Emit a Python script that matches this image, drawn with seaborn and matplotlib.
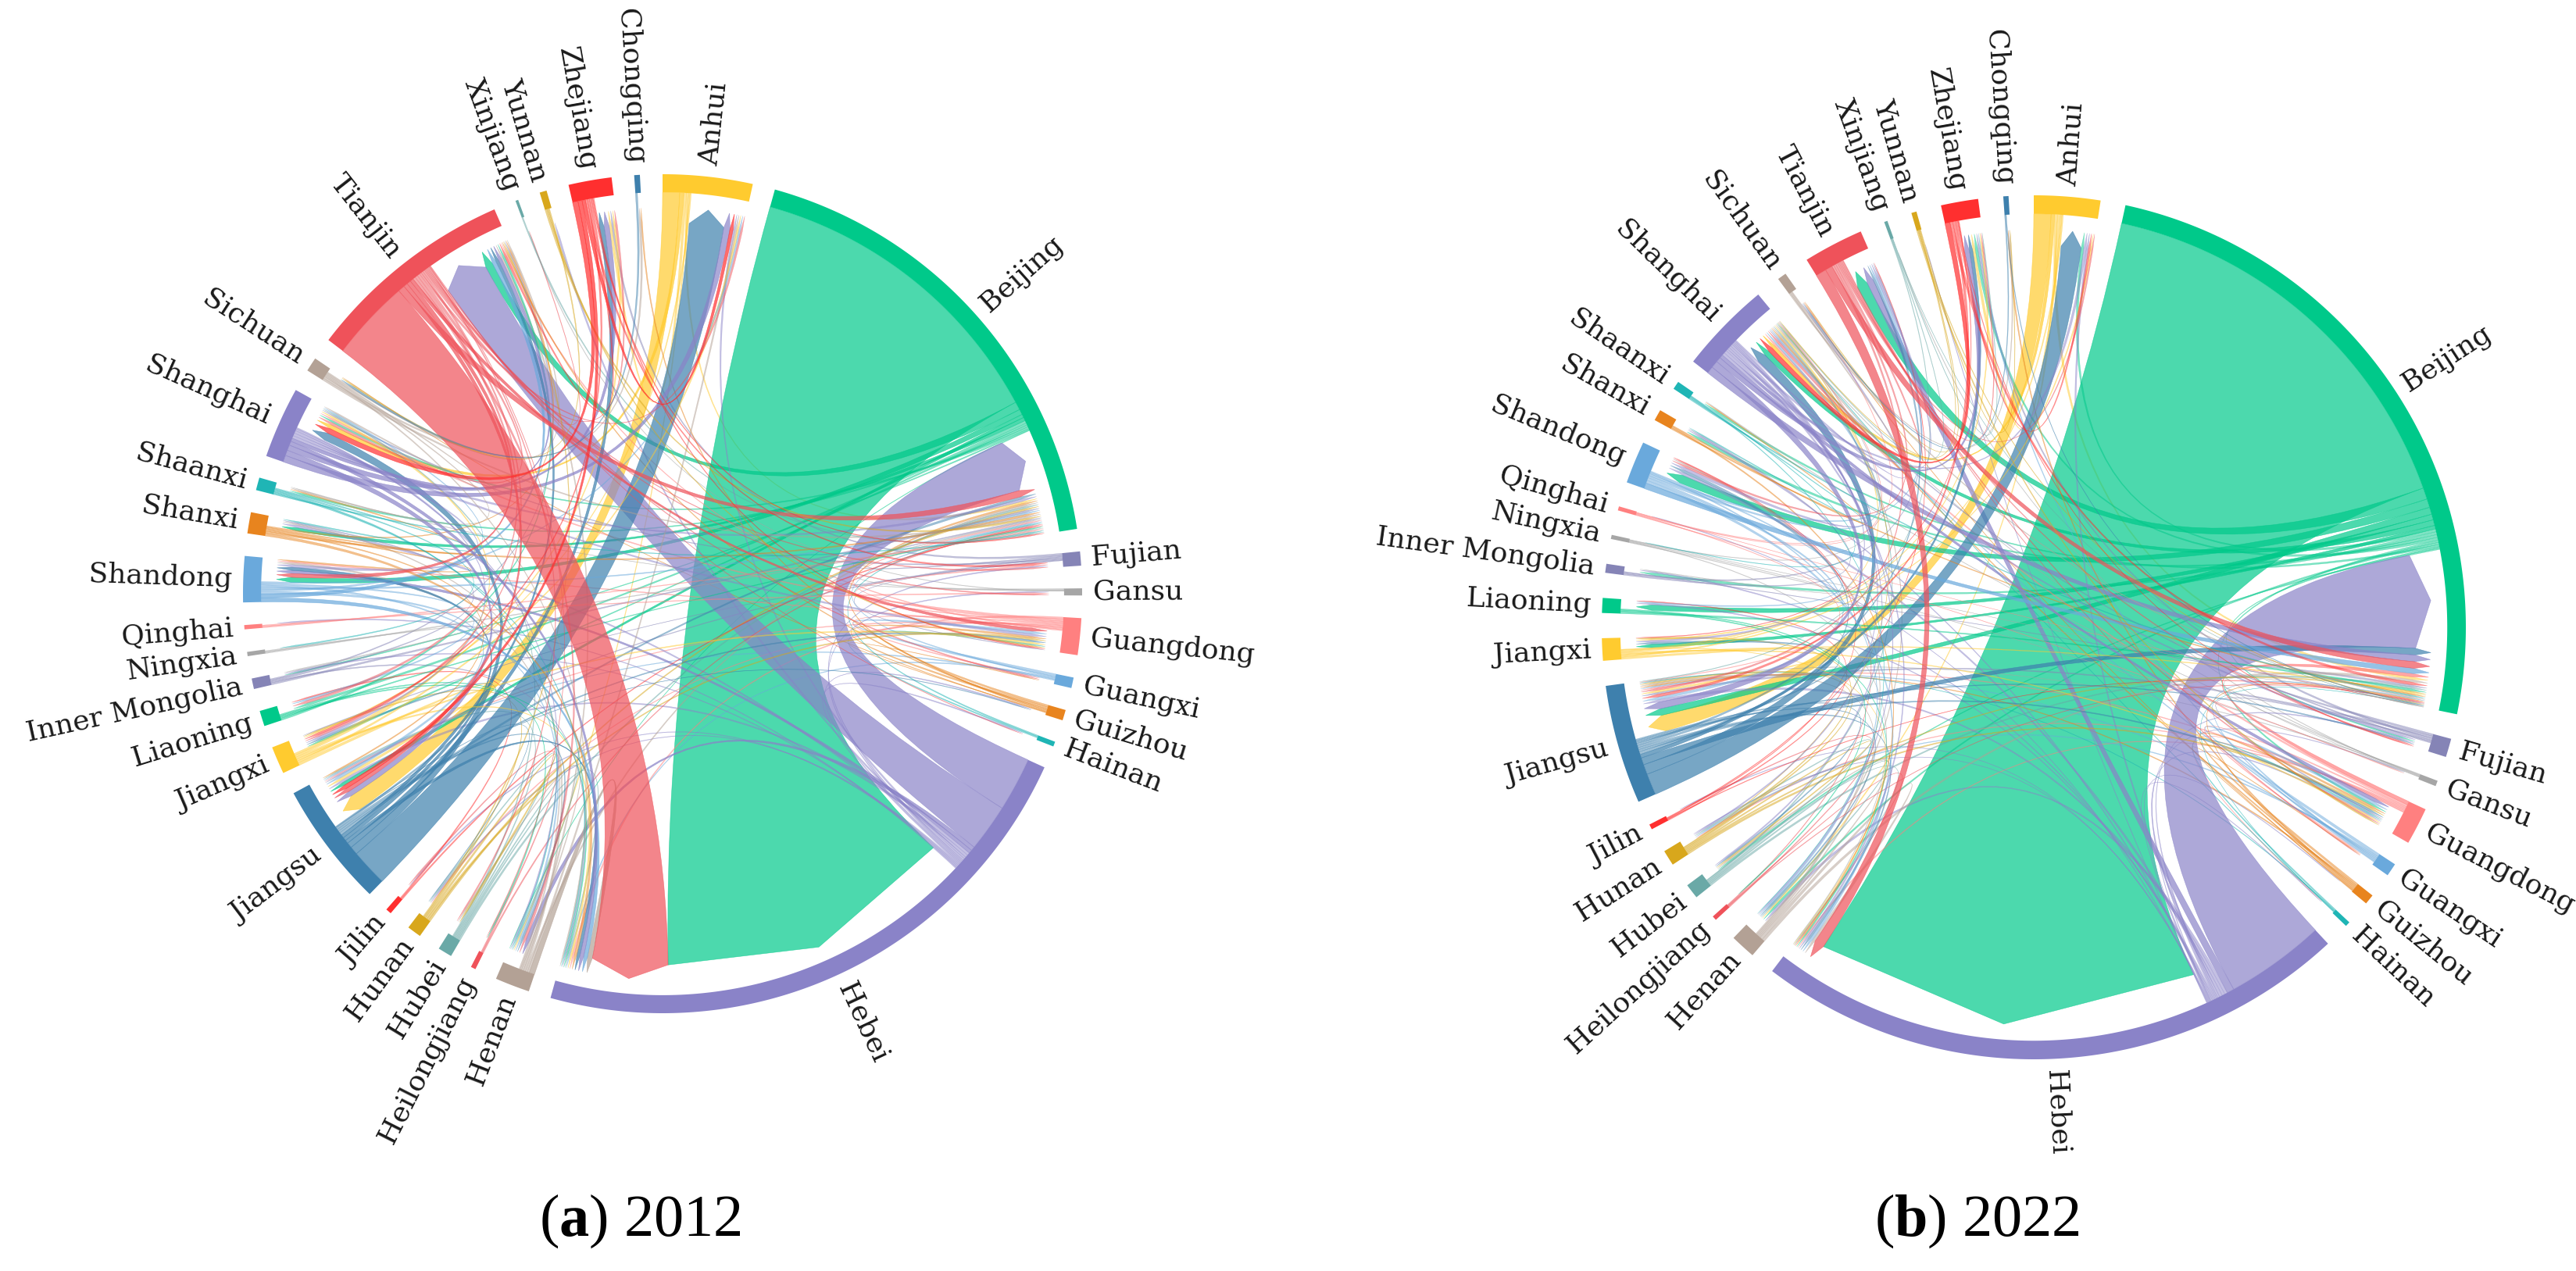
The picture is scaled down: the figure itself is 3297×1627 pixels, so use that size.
import numpy as np
import matplotlib
matplotlib.use("Agg")
import matplotlib.pyplot as plt
from matplotlib.path import Path
from matplotlib.patches import PathPatch
import seaborn as sns

# provinces in the order they run clockwise round the circle
provinces = ["Anhui", "Beijing", "Fujian", "Gansu", "Guangdong", "Guangxi", "Guizhou",
             "Hainan", "Hebei", "Henan", "Heilongjiang", "Hubei", "Hunan", "Jilin",
             "Jiangsu", "Jiangxi", "Liaoning", "Inner Mongolia", "Ningxia", "Qinghai",
             "Shandong", "Shanxi", "Shaanxi", "Shanghai", "Sichuan", "Tianjin",
             "Xinjiang", "Yunnan", "Zhejiang", "Chongqing"]

# flows: source -> {target: value}
flows_2012 = {
    "Anhui": {"Jiangsu": 2.5, "Shanghai": .6, "Zhejiang": .4, "Jiangxi": .2, "Beijing": .3, "Henan": .2},
    "Beijing": {"Hebei": 47, "Tianjin": 1.2, "Shandong": .8, "Shanxi": .5, "Jiangsu": .5, "Liaoning": .4,
                "Shaanxi": .3, "Jiangxi": .3, "Shanghai": .3, "Inner Mongolia": .2, "Henan": .1},
    "Fujian": {"Zhejiang": .3, "Shanghai": .2, "Beijing": .2, "Jiangsu": .2, "Guangdong": .1, "Jiangxi": .1},
    "Gansu": {"Beijing": .2, "Shaanxi": .1, "Xinjiang": .1},
    "Guangdong": {"Hebei": .3, "Shanghai": .3, "Beijing": .2, "Tianjin": .2, "Jiangsu": .2, "Shandong": .2,
                  "Fujian": .2, "Guangxi": .2, "Hunan": .2},
    "Guangxi": {"Guangdong": .4, "Beijing": .2, "Hebei": .2, "Jiangsu": .2},
    "Guizhou": {"Beijing": .3, "Guangdong": .3, "Tianjin": .2, "Chongqing": .2, "Sichuan": .1, "Guangxi": .1},
    "Hainan": {"Beijing": .2, "Guangdong": .2},
    "Hebei": {"Beijing": 8, "Tianjin": 7, "Henan": .6, "Shandong": .5, "Shanxi": .4, "Jiangsu": .4,
              "Anhui": .3, "Yunnan": .3, "Inner Mongolia": .2, "Fujian": .2, "Hunan": .2, "Guizhou": .2,
              "Hainan": .2, "Gansu": .2, "Jilin": .2, "Qinghai": .2},
    "Henan": {"Hebei": .8, "Tianjin": .3, "Anhui": .3, "Shandong": .3, "Beijing": .3, "Hubei": .2, "Shanxi": .2},
    "Heilongjiang": {"Beijing": .2, "Jilin": .2},
    "Hubei": {"Beijing": .3, "Jiangsu": .2, "Shanghai": .2, "Henan": .2, "Hebei": .2, "Hunan": .2},
    "Hunan": {"Hubei": .3, "Beijing": .3, "Guangdong": .3, "Jiangxi": .2, "Tianjin": .2},
    "Jilin": {"Liaoning": .2, "Beijing": .2},
    "Jiangsu": {"Anhui": 5.5, "Shanghai": 1.2, "Zhejiang": .8, "Hebei": .5, "Tianjin": .5, "Shandong": .5,
                "Beijing": .4, "Guangdong": .3, "Henan": .3, "Jiangxi": .3, "Hunan": .1, "Guizhou": .1},
    "Jiangxi": {"Jiangsu": .4, "Anhui": .3, "Zhejiang": .3, "Guangdong": .3, "Hebei": .3, "Shanghai": .3},
    "Liaoning": {"Tianjin": .3, "Hebei": .2, "Beijing": .2, "Heilongjiang": .2},
    "Inner Mongolia": {"Beijing": .3, "Hebei": .2, "Shanxi": .2, "Tianjin": .2},
    "Ningxia": {"Inner Mongolia": .2, "Beijing": .2},
    "Qinghai": {"Beijing": .2, "Gansu": .2},
    "Shandong": {"Hebei": .6, "Tianjin": .6, "Jiangsu": .4, "Beijing": .3, "Anhui": .3, "Henan": .3,
                 "Liaoning": .3, "Shanghai": .2},
    "Shanxi": {"Hebei": .4, "Beijing": .3, "Tianjin": .2, "Shandong": .2, "Jiangsu": .2, "Shaanxi": .2},
    "Shaanxi": {"Shanxi": .2, "Beijing": .2, "Hebei": .2, "Henan": .2, "Ningxia": .2},
    "Shanghai": {"Anhui": 1.0, "Jiangsu": .8, "Zhejiang": .8, "Hebei": .6, "Tianjin": .5, "Beijing": .4,
                 "Shandong": .4, "Guangdong": .4, "Jiangxi": .3, "Henan": .2},
    "Sichuan": {"Beijing": .3, "Chongqing": .3, "Tianjin": .2, "Shanghai": .2, "Shaanxi": .2, "Hebei": .2},
    "Tianjin": {"Hebei": 12, "Beijing": 1.0, "Shandong": .6, "Jiangsu": .6, "Guangdong": .5, "Henan": .4,
                "Liaoning": .4, "Shanghai": .4, "Anhui": .3, "Zhejiang": .3, "Jiangxi": .3, "Fujian": .2,
                "Hubei": .2, "Guangxi": .2, "Gansu": .2, "Hainan": .1, "Heilongjiang": .1, "Xinjiang": .1},
    "Xinjiang": {"Beijing": .2},
    "Yunnan": {"Beijing": .3, "Sichuan": .2, "Guangdong": .2},
    "Zhejiang": {"Shanghai": .8, "Anhui": .5, "Jiangsu": .6, "Tianjin": .3, "Fujian": .3, "Jiangxi": .3,
                 "Beijing": .2, "Guangdong": .2},
    "Chongqing": {"Sichuan": .3},
}

# flows
flows_2022 = {
    "Anhui": {"Jiangsu": 2.4, "Shanghai": .5, "Zhejiang": .4, "Beijing": .4, "Jiangxi": .2, "Henan": .2},
    "Beijing": {"Hebei": 58, "Tianjin": 1.6, "Shandong": 1.2, "Jiangsu": 1.0, "Shanghai": .8, "Liaoning": .8,
                "Jiangxi": .5, "Inner Mongolia": .4, "Shanxi": .4, "Zhejiang": .4, "Anhui": .4, "Henan": .3,
                "Shaanxi": .3, "Guangdong": .3, "Hubei": .2, "Fujian": .2},
    "Fujian": {"Beijing": .3, "Zhejiang": .3, "Jiangsu": .3, "Shanghai": .2, "Guangdong": .2},
    "Gansu": {"Shaanxi": .1, "Xinjiang": .1, "Jiangsu": .1, "Shanghai": .1, "Beijing": .05},
    "Guangdong": {"Beijing": .5, "Shanghai": .3, "Hebei": .2, "Jiangsu": .2, "Guangxi": .2, "Hunan": .2, "Hainan": .1},
    "Guangxi": {"Guangdong": .4, "Jiangsu": .2, "Shanghai": .2, "Zhejiang": .2, "Hunan": .2, "Beijing": .15},
    "Guizhou": {"Guangdong": .3, "Chongqing": .2, "Jiangsu": .2, "Shanghai": .2, "Beijing": .15,
                "Guangxi": .1, "Sichuan": .1},
    "Hainan": {"Guangdong": .2, "Shanghai": .1, "Jiangsu": .1, "Beijing": .05},
    "Hebei": {"Beijing": 14, "Tianjin": 1.0, "Shandong": .4, "Henan": .4, "Jiangsu": .4, "Anhui": .3,
              "Shanxi": .2, "Liaoning": .2, "Inner Mongolia": .2, "Guangdong": .2, "Fujian": .2, "Gansu": .1,
              "Qinghai": .1, "Hainan": .1, "Jilin": .1, "Yunnan": .1, "Guizhou": .1, "Hunan": .1},
    "Henan": {"Beijing": .4, "Hebei": .4, "Jiangsu": .2, "Shanghai": .2, "Shandong": .2, "Hubei": .2},
    "Heilongjiang": {"Jilin": .15, "Beijing": .1, "Hebei": .1, "Shandong": .1},
    "Hubei": {"Beijing": .3, "Henan": .2, "Shanghai": .2, "Hunan": .2, "Hebei": .1},
    "Hunan": {"Guangdong": .3, "Beijing": .2, "Jiangxi": .2, "Hubei": .2, "Jiangsu": .2, "Shanghai": .1},
    "Jilin": {"Liaoning": .15, "Beijing": .1, "Tianjin": .1, "Shandong": .1},
    "Jiangsu": {"Anhui": 3.0, "Shanghai": 1.4, "Beijing": 1.0, "Zhejiang": .5, "Shandong": .4, "Hebei": .3,
                "Tianjin": .3, "Guangdong": .3, "Jiangxi": .3, "Henan": .2, "Hubei": .2, "Fujian": .2},
    "Jiangxi": {"Jiangsu": .3, "Beijing": .2, "Shanghai": .2, "Guangdong": .2, "Anhui": .2, "Zhejiang": .2,
                "Hebei": .1},
    "Liaoning": {"Beijing": .3, "Hebei": .2, "Heilongjiang": .15},
    "Inner Mongolia": {"Shanxi": .2, "Tianjin": .2, "Beijing": .1},
    "Ningxia": {"Inner Mongolia": .1, "Gansu": .1, "Shanghai": .1, "Hebei": .1, "Beijing": .05},
    "Qinghai": {"Gansu": .1, "Jiangsu": .1, "Shanghai": .1, "Sichuan": .1, "Beijing": .05},
    "Shandong": {"Beijing": .8, "Hebei": .4, "Jiangsu": .4, "Tianjin": .3, "Shanghai": .3, "Henan": .2,
                 "Liaoning": .2},
    "Shanxi": {"Beijing": .2, "Hebei": .2, "Shaanxi": .15},
    "Shaanxi": {"Beijing": .2, "Shanxi": .15, "Ningxia": .1, "Henan": .1},
    "Shanghai": {"Beijing": 1.0, "Jiangsu": 1.0, "Zhejiang": .7, "Guangdong": .5, "Anhui": .4, "Shandong": .4,
                 "Hebei": .3, "Tianjin": .3, "Jiangxi": .3, "Fujian": .3, "Henan": .2, "Hubei": .2,
                 "Sichuan": .2, "Hunan": .2},
    "Sichuan": {"Beijing": .2, "Shanghai": .2, "Chongqing": .15},
    "Tianjin": {"Hebei": 1.5, "Beijing": 1.0, "Shanghai": .3, "Jiangsu": .3, "Shandong": .3, "Guangdong": .2,
                "Fujian": .2, "Anhui": .2, "Zhejiang": .2, "Guangxi": .1},
    "Xinjiang": {"Shanghai": .1, "Jiangsu": .1, "Zhejiang": .1, "Beijing": .05},
    "Yunnan": {"Guangdong": .2, "Beijing": .1, "Sichuan": .1, "Shanghai": .1, "Chongqing": .1},
    "Zhejiang": {"Shanghai": .7, "Jiangsu": .4, "Beijing": .4, "Anhui": .3, "Jiangxi": .1, "Fujian": .1},
    "Chongqing": {"Sichuan": .15, "Beijing": .1},
}

captions = [("a", "2012"), ("b", "2022")]

# 15 colours, repeated round the circle
base_colors = ["#ffcb2f", "#00c98a", "#8584b6", "#a6a6a6", "#ff8080", "#6aa9dc", "#e8841e", "#1fb5b5",
               "#8a83c8", "#b3a195", "#ef525a", "#6aa9a7", "#d8a71c", "#ff2f2f", "#3e80ad"]
palette = sns.color_palette(base_colors)
colors = [palette[i % len(palette)] for i in range(len(provinces))]

sns.set_theme(style="white")
plt.rcParams['font.family'] = ['DejaVu Serif']
plt.rcParams['mathtext.fontset'] = 'custom'
plt.rcParams['mathtext.rm'] = 'Liberation Serif'
plt.rcParams['mathtext.bf'] = 'Liberation Serif:bold'

idx = {p: i for i, p in enumerate(provinces)}
n = len(provinces)


def polar(cx, cy, r, a):
    return cx + r * np.sin(a), cy - r * np.cos(a)


def arc_pts(cx, cy, r, a0, a1):
    m = max(2, int(abs(a1 - a0) / 0.005) + 2)
    return [polar(cx, cy, r, a) for a in np.linspace(a0, a1, m)]


def layout(flows, pad_deg):
    mat = np.zeros((n, n))
    for s, targets in flows.items():
        for t, v in targets.items():
            mat[idx[s], idx[t]] += v
    totals = mat.sum(1) + mat.sum(0)
    pad = np.radians(pad_deg)
    k = (2 * np.pi - n * pad) / totals.sum()
    groups, src, tgt = [], {}, {}
    x = 0.0
    for i in range(n):
        x0 = x
        outs = sorted([j for j in range(n) if mat[i, j] > 0], key=lambda j: -mat[i, j])
        ins = sorted([j for j in range(n) if mat[j, i] > 0], key=lambda j: -mat[j, i])
        for j in outs:
            src[(i, j)] = (x, x + mat[i, j] * k)
            x += mat[i, j] * k
        for j in ins:
            tgt[(j, i)] = (x, x + mat[j, i] * k)
            x += mat[j, i] * k
        groups.append((x0, x))
        x += pad
    return mat, groups, src, tgt


def draw_chord(ax, flows, cx, cy, R, pad_deg):
    mat, groups, src, tgt = layout(flows, pad_deg)
    r_in = R * 0.957
    r_tip = R * 0.921
    r_edge = R * 0.885

    # ribbons, source-major order
    for i in range(n):
        for j in range(n):
            if mat[i, j] <= 0:
                continue
            sa0, sa1 = src[(i, j)]
            ta0, ta1 = tgt[(i, j)]
            verts = arc_pts(cx, cy, r_in, sa0, sa1)
            codes = [Path.MOVETO] + [Path.LINETO] * (len(verts) - 1)
            verts += [(cx, cy), polar(cx, cy, r_edge, ta0),
                      polar(cx, cy, r_tip, (ta0 + ta1) / 2),
                      polar(cx, cy, r_edge, ta1),
                      (cx, cy), polar(cx, cy, r_in, sa0), (0, 0)]
            codes += [Path.CURVE3, Path.CURVE3, Path.LINETO, Path.LINETO,
                      Path.CURVE3, Path.CURVE3, Path.CLOSEPOLY]
            thin = mat[i, j] < 0.5
            ax.add_patch(PathPatch(Path(verts, codes), facecolor=colors[i], edgecolor=colors[i],
                                   lw=0.25 if thin else 0.4, alpha=0.5 if thin else 0.7))

    # outer rings and labels
    for i, (a0, a1) in enumerate(groups):
        outer = arc_pts(cx, cy, R, a0, a1)
        inner = arc_pts(cx, cy, r_in, a1, a0)
        ax.add_patch(plt.Polygon(outer + inner, closed=True, facecolor=colors[i], edgecolor='none'))
        am = (a0 + a1) / 2
        deg = np.degrees(am)
        lx, ly = polar(cx, cy, R + 14, am)
        if deg < 180:
            ax.text(lx, ly, provinces[i], rotation=90 - deg, rotation_mode='anchor',
                    ha='left', va='center', fontsize=26, color='#1a1a1a')
        else:
            ax.text(lx, ly, provinces[i], rotation=270 - deg, rotation_mode='anchor',
                    ha='right', va='center', fontsize=26, color='#1a1a1a')


fig = plt.figure(figsize=(32.98, 16.27), dpi=100)
ax = fig.add_axes([0, 0, 1, 1])
ax.set_xlim(0, 3298)
ax.set_ylim(1627, 0)
ax.axis('off')

draw_chord(ax, flows_2012, 848, 760, 537, 3.1)
draw_chord(ax, flows_2022, 2603, 803, 553, 3.35)

for (letter, year), xc in zip(captions, [819, 2530]):
    ax.text(xc, 1582, r"($\mathbf{" + letter + "}$) " + year, ha='center', va='baseline',
            fontsize=55, family='Liberation Serif', color='black')

fig.savefig("out.png", dpi=100, facecolor='white')
